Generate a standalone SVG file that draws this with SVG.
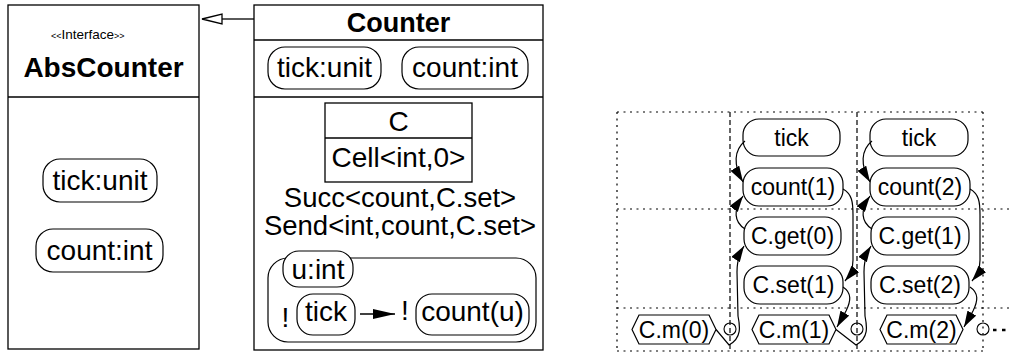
<svg xmlns="http://www.w3.org/2000/svg" width="1009" height="354" viewBox="0 0 1009 354">
<defs>
<style>
.box{fill:#fff;stroke:#000;stroke-width:1.3}
.ln{fill:none;stroke:#000;stroke-width:1.3}
.pill{fill:#fff;stroke:#000;stroke-width:1.2}
.t{font-family:"Liberation Sans",Arial,Helvetica,sans-serif;font-size:28px;text-anchor:middle;fill:#000}
.b{font-weight:bold}
.s{font-size:23px}
.grid{fill:none;stroke:#000;stroke-width:1.2;stroke-dasharray:2 4.5}
.dash{stroke-dasharray:5 3}
.edge{fill:none;stroke:#000;stroke-width:1.2;marker-end:url(#ah)}
.circ{fill:none;stroke:#000;stroke-width:1.1}
</style>
<marker id="ah" viewBox="0 0 16 10" refX="16" refY="5" markerWidth="16" markerHeight="10" markerUnits="userSpaceOnUse" orient="auto"><path d="M0,0 L16,5 L0,10 z" fill="#000"/></marker>
<marker id="ah2" viewBox="0 0 22 10" refX="22" refY="5" markerWidth="22" markerHeight="10" markerUnits="userSpaceOnUse" orient="auto"><path d="M0,0 L22,5 L0,10 z" fill="#000"/></marker>
</defs>
<rect x="0" y="0" width="1009" height="354" fill="#fff"/>

<g id="AbsCounter">
<rect class="box" x="8" y="5" width="191" height="344"/>
<line class="ln" x1="8" y1="97" x2="199" y2="97"/>
<text class="t" x="51" y="39" style="text-anchor:start"><tspan font-size="9">&lt;&lt;</tspan><tspan font-size="13.5">Interface</tspan><tspan font-size="9">&gt;&gt;</tspan></text>
<text class="t b" x="103.5" y="77">AbsCounter</text>
<g id="abs-tick"><rect class="pill" x="43" y="159" width="114" height="43" rx="17"/><text class="t" x="100" y="190">tick:unit</text></g>
<g id="abs-count"><rect class="pill" x="36" y="229" width="127" height="43" rx="17"/><text class="t" x="99.5" y="260">count:int</text></g>
</g>

<g id="Counter">
<rect class="box" x="254" y="5" width="289" height="345"/>
<line class="ln" x1="254" y1="40" x2="543" y2="40"/>
<line class="ln" x1="254" y1="97" x2="543" y2="97"/>
<text class="t b" x="398.5" y="32" style="font-size:27px">Counter</text>
<g id="c-tick"><rect class="pill" x="268" y="47" width="113" height="42" rx="17"/><text class="t" x="324.5" y="77">tick:unit</text></g>
<g id="c-count"><rect class="pill" x="402" y="47" width="126" height="42" rx="17"/><text class="t" x="465" y="77">count:int</text></g>
<g id="C">
<rect class="box" x="325" y="103" width="147" height="79"/>
<line class="ln" x1="325" y1="138" x2="472" y2="138"/>
<text class="t" x="398.5" y="131">C</text>
<text class="t" x="398.5" y="167">Cell&lt;int,0&gt;</text>
</g>
<text class="t" x="400" y="207" style="font-size:27.5px">Succ&lt;count,C.set&gt;</text>
<text class="t" x="400" y="235" style="font-size:27.5px">Send&lt;int,count,C.set&gt;</text>
<g id="behaviour">
<rect class="pill" x="268" y="258" width="268" height="84" rx="20"/>
<rect class="pill" x="283" y="251" width="70" height="36" rx="16"/>
<text class="t" x="318" y="279">u:int</text>
<text class="t" x="285.5" y="327">!</text>
<rect class="pill" x="297" y="294" width="58" height="41" rx="16"/>
<text class="t" x="326" y="321">tick</text>
<line x1="360" y1="314" x2="395" y2="314" stroke="#000" stroke-width="1.3" marker-end="url(#ah2)"/>
<text class="t" x="405" y="320">!</text>
<rect class="pill" x="416" y="294" width="113" height="41" rx="16"/>
<text class="t" x="472.5" y="321">count(u)</text>
</g>
</g>

<g id="generalization">
<line class="ln" x1="222" y1="19" x2="254" y2="19"/>
<polygon points="202,19 222,14 222,24" fill="#fff" stroke="#000" stroke-width="1.3"/>
</g>

<g id="grid">
<line class="grid" x1="617" y1="112" x2="983" y2="112"/>
<line class="grid" x1="617" y1="209" x2="1009" y2="209"/>
<line class="grid" x1="617" y1="308" x2="1009" y2="308"/>
<line class="grid" x1="617" y1="351" x2="983" y2="351"/>
<line class="grid" x1="617" y1="112" x2="617" y2="351"/>
<line class="grid" x1="983" y1="112" x2="983" y2="351"/>
<line class="grid dash" x1="730" y1="112" x2="730" y2="351"/>
<line class="grid dash" x1="857" y1="112" x2="857" y2="351"/>
<line x1="993" y1="330" x2="1007" y2="330" stroke="#000" stroke-width="2.5" stroke-dasharray="3.5 5.5"/>
</g>

<g id="m0"><polygon class="pill" points="632,329.5 639,315 709,315 716,329.5 709,344 639,344"/><text class="t s" x="674" y="337.5">C.m(0)</text></g>
<g id="j0"><circle class="circ" cx="730" cy="329" r="6"/></g>

<g id="tick1"><rect class="pill" x="743" y="119" width="97" height="37" rx="16"/><text class="t s" x="791.5" y="146">tick</text></g>
<g id="count1"><rect class="pill" x="743" y="168" width="100" height="38" rx="16"/><text class="t s" x="793" y="195">count(1)</text></g>
<g id="get0"><rect class="pill" x="744" y="217" width="97" height="38" rx="16"/><text class="t s" x="792.5" y="244">C.get(0)</text></g>
<g id="set1"><rect class="pill" x="744" y="266" width="99" height="38" rx="16"/><text class="t s" x="793.5" y="293">C.set(1)</text></g>
<g id="m1"><polygon class="pill" points="752,329.5 759,315 829,315 836,329.5 829,344 759,344"/><text class="t s" x="794" y="337.5">C.m(1)</text></g>
<g id="j1"><circle class="circ" cx="857" cy="329" r="6"/></g>

<g id="tick2"><rect class="pill" x="870" y="119" width="98" height="37" rx="16"/><text class="t s" x="919" y="146">tick</text></g>
<g id="count2"><rect class="pill" x="870" y="168" width="100" height="38" rx="16"/><text class="t s" x="920" y="195">count(2)</text></g>
<g id="get1"><rect class="pill" x="871" y="217" width="98" height="38" rx="16"/><text class="t s" x="920" y="244">C.get(1)</text></g>
<g id="set2"><rect class="pill" x="871" y="266" width="98" height="38" rx="16"/><text class="t s" x="920" y="293">C.set(2)</text></g>
<g id="m2"><polygon class="pill" points="880,329.5 887,315 956,315 963,329.5 956,344 887,344"/><text class="t s" x="921.5" y="337.5">C.m(2)</text></g>
<g id="j2"><circle class="circ" cx="983" cy="329" r="6"/></g>

<g id="connectors">
<path class="edge" d="M745,141 C734,150 733,165 743,182"/>
<path class="edge" d="M745,229 C734,222 733,210 743,196"/>
<path class="edge" d="M716,329.5 L729,345 C742,338 740,326 738,316 L737,272 C737,262 739,254 744,246"/>
<path class="edge" d="M843,189 C852,194 853,202 853,215 L853,260 C853,268 851,274 845,281"/>
<path class="edge" d="M843,287 C852,293 851,301 846,311 L837,327"/>
<path class="edge" d="M872,141 C861,150 860,165 870,182"/>
<path class="edge" d="M872,229 C861,222 860,210 870,196"/>
<path class="edge" d="M836,329.5 L856,345 C869,338 867,326 865,316 L864,272 C864,262 866,254 871,246"/>
<path class="edge" d="M970,189 C979,194 980,202 980,215 L980,260 C980,268 978,274 972,281"/>
<path class="edge" d="M970,287 C979,293 978,301 973,311 L964,327"/>
</g>
</svg>
